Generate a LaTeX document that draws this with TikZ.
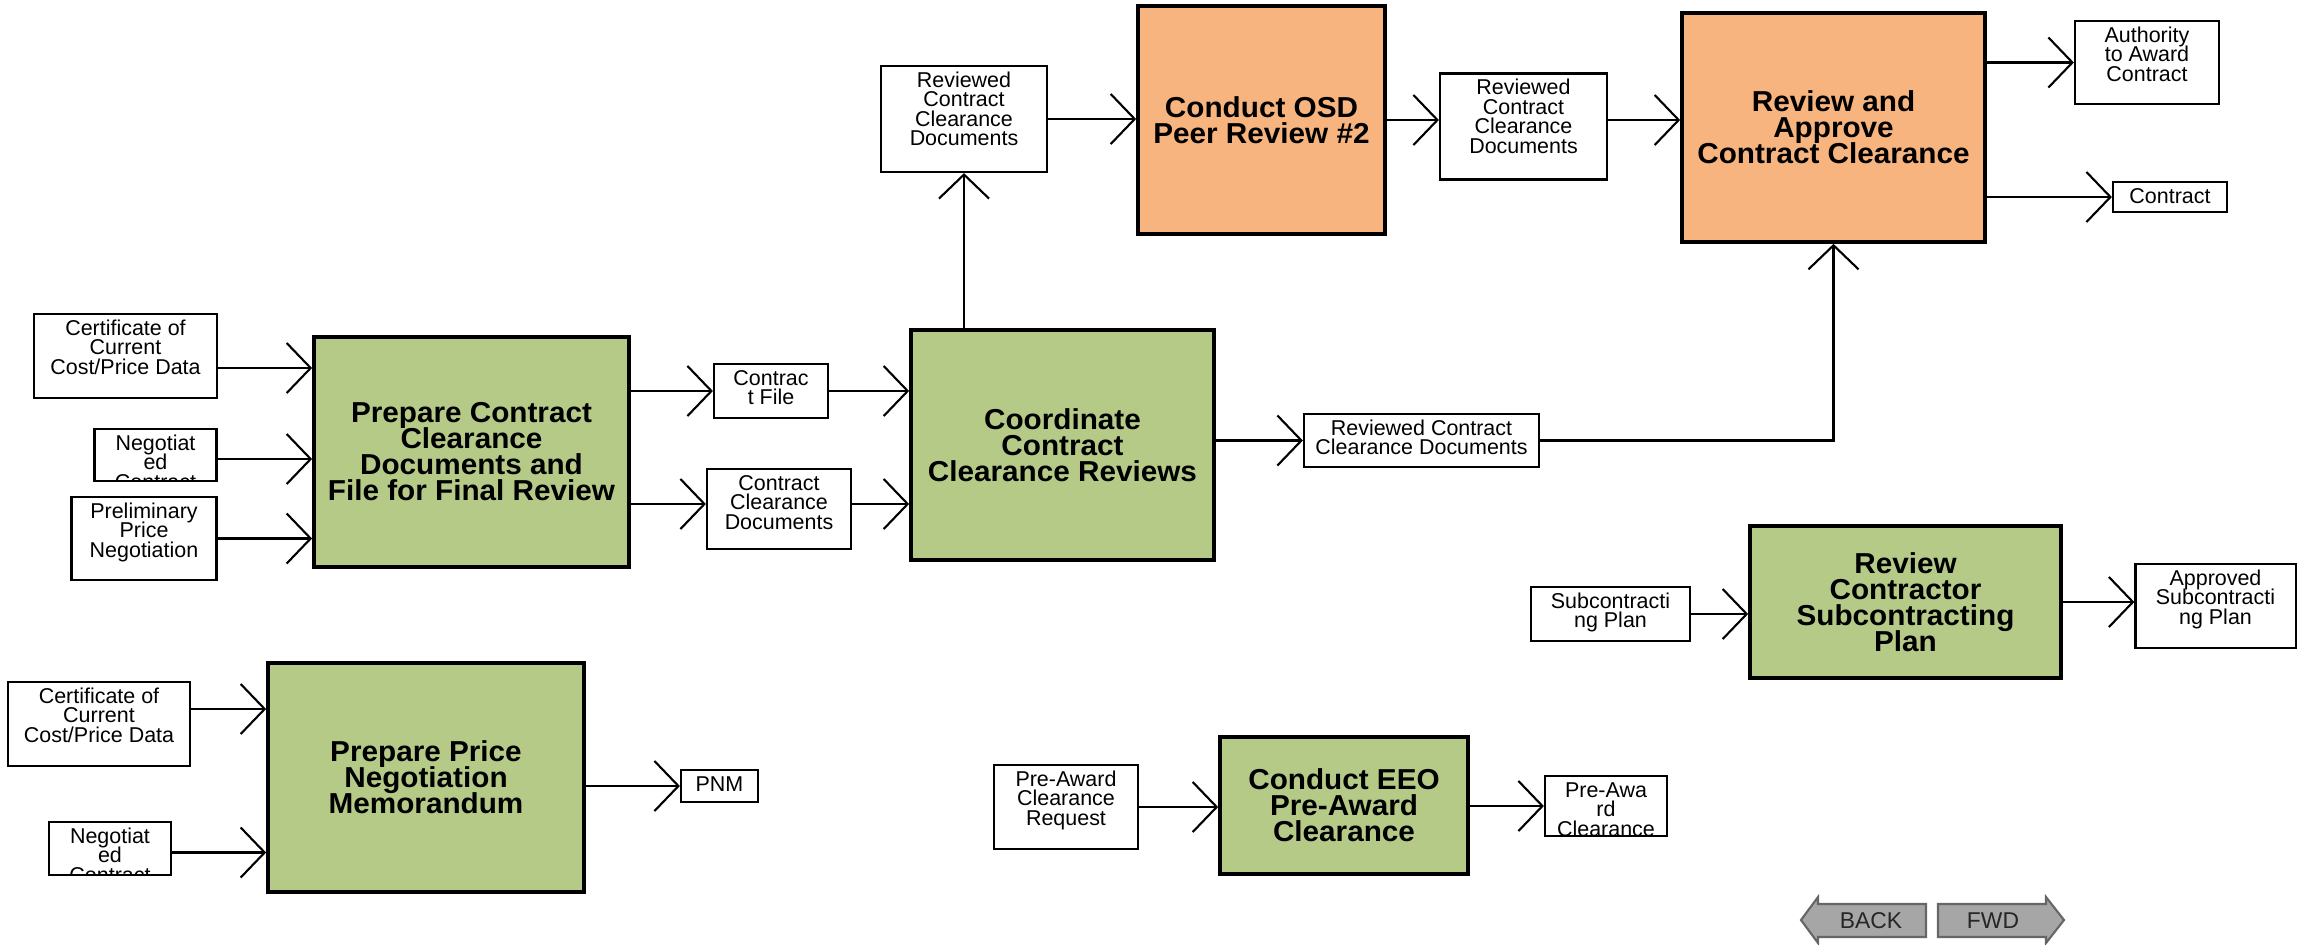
\documentclass[tikz,border=0pt]{standalone}
\usepackage{fontspec}
\setmainfont{Liberation Sans}
\newfontfamily\taskfamily{Liberation Sans}[FakeStretch=1.03]
\usetikzlibrary{arrows.meta, positioning}
\definecolor{taskgreen}{RGB}{182,202,136}
\definecolor{taskorange}{RGB}{247,180,126}
\definecolor{btngray}{RGB}{166,166,166}
\newcommand{\docfont}{\fontsize{6.1}{5.5}\selectfont\lineskiplimit=-5pt\relax}
\newcommand{\taskfont}{\taskfamily\bfseries\fontsize{8.2}{7.4}\selectfont\lineskiplimit=-5pt\relax}

\begin{document}
\begin{tikzpicture}[x=0.01cm, y=-0.01cm,
    task/.style={rectangle, draw=black, line width=1pt, align=center, inner sep=0pt, font=\taskfont},
    doc/.style={rectangle, draw=black, fill=white, line width=0.6pt, inner sep=0pt,
        path picture={\node[anchor=base, inner sep=0pt]
            at ([yshift=-0.215cm]path picture bounding box.north) {\parbox[t]{3cm}{\centering\docfont #1}};}},
    arrow/.style={line width=0.6pt, -{Straight Barb[length=0.24cm, width=0.5cm]}},
    btn/.style={fill=btngray, draw=black!60, line width=0.6pt}
]
\useasboundingbox (0,0) rectangle (2311,944);

\node (prepCCD) [task, fill=taskgreen, minimum width=3.15cm, minimum height=2.30cm] at (471.5,452) {Prepare Contract\\Clearance\\Documents and\\File for Final Review};
\node (coord) [task, fill=taskgreen, minimum width=3.03cm, minimum height=2.30cm] at (1062.5,445) {Coordinate\\Contract\\Clearance Reviews};
\node (osd) [task, fill=taskorange, minimum width=2.47cm, minimum height=2.28cm] at (1261.5,120) {Conduct OSD\\Peer Review \#2};
\node (approve) [task, fill=taskorange, minimum width=3.03cm, minimum height=2.29cm] at (1833.5,127.5) {Review and\\Approve\\Contract Clearance};
\node (subc) [task, fill=taskgreen, minimum width=3.11cm, minimum height=1.52cm] at (1905.5,602) {Review\\Contractor\\Subcontracting\\Plan};
\node (prepPNM) [task, fill=taskgreen, minimum width=3.16cm, minimum height=2.29cm] at (426,777.5) {Prepare Price\\Negotiation\\Memorandum};
\node (eeo) [task, fill=taskgreen, minimum width=2.48cm, minimum height=1.37cm] at (1344,805.5) {Conduct EEO\\Pre-Award\\Clearance};

\node (certA) [doc={Certificate of\\Current\\Cost/Price Data}, minimum width=1.83cm, minimum height=0.84cm] at (125.5,356) {};
\node (negA) [doc={Negotiat\\ed\\Contract}, minimum width=1.22cm, minimum height=0.52cm] at (155.5,455) {};
\node (prelim) [doc={Preliminary\\Price\\Negotiation}, minimum width=1.45cm, minimum height=0.83cm] at (144,538.5) {};
\node (cfile) [doc={Contrac\\t File}, minimum width=1.14cm, minimum height=0.54cm] at (771,391) {};
\node (ccd) [doc={Contract\\Clearance\\Documents}, minimum width=1.44cm, minimum height=0.80cm] at (779,509) {};
\node (rtop) [doc={Reviewed\\Contract\\Clearance\\Documents}, minimum width=1.66cm, minimum height=1.06cm] at (964,119) {};
\node (rmid) [doc={Reviewed\\Contract\\Clearance\\Documents}, minimum width=1.67cm, minimum height=1.06cm] at (1523.5,126.5) {};
\node (rlong) [doc={Reviewed Contract\\Clearance Documents}, minimum width=2.35cm, minimum height=0.53cm] at (1421.5,440.5) {};
\node (auth) [doc={Authority\\to Award\\Contract}, minimum width=1.44cm, minimum height=0.83cm] at (2147,62.5) {};
\node (contract) [doc={Contract}, minimum width=1.14cm, minimum height=0.30cm] at (2170,197) {};
\node (subplan) [doc={Subcontracti\\ng Plan}, minimum width=1.59cm, minimum height=0.54cm] at (1610.5,614) {};
\node (apsub) [doc={Approved\\Subcontracti\\ng Plan}, minimum width=1.60cm, minimum height=0.84cm] at (2215.5,606) {};
\node (certB) [doc={Certificate of\\Current\\Cost/Price Data}, minimum width=1.82cm, minimum height=0.84cm] at (99,724) {};
\node (negB) [doc={Negotiat\\ed\\Contract}, minimum width=1.22cm, minimum height=0.53cm] at (110,848.5) {};
\node (pnm) [doc={PNM}, minimum width=0.77cm, minimum height=0.32cm] at (719.5,786) {};
\node (par) [doc={Pre-Award\\Clearance\\Request}, minimum width=1.44cm, minimum height=0.84cm] at (1066,807) {};
\node (paout) [doc={Pre-Awa\\rd\\Clearance}, minimum width=1.22cm, minimum height=0.60cm] at (1606,806) {};

\draw [arrow] ([yshift=-0.12cm]certA.east) -- ([yshift=-0.12cm]certA.east -| prepCCD.west);
\draw [arrow] ([yshift=-0.04cm]negA.east) -- ([yshift=-0.04cm]negA.east -| prepCCD.west);
\draw [arrow] (prelim.east) -- (prelim.east -| prepCCD.west);
\draw [arrow] (prepCCD.east |- cfile.west) -- (cfile.west);
\draw [arrow] ([yshift=0.05cm]prepCCD.east |- ccd.west) -- ([yshift=0.05cm]ccd.west);
\draw [arrow] (cfile.east) -- (cfile.east -| coord.west);
\draw [arrow] ([yshift=0.05cm]ccd.east) -- ([yshift=0.05cm]ccd.east -| coord.west);
\draw [arrow] (coord.east |- rlong.west) -- (rlong.west);
\draw [arrow] (coord.north -| rtop.south) -- (rtop.south);
\draw [arrow] (rtop.east) -- (rtop.east -| osd.west);
\draw [arrow] (osd.east) -- (osd.east -| rmid.west);
\draw [arrow] (osd.east -| rmid.east) -- (osd.east -| approve.west);
\draw [arrow] (rlong.east) -| (approve.south);
\draw [arrow] (approve.east |- auth.west) -- (auth.west);
\draw [arrow] (approve.east |- contract.west) -- (contract.west);
\draw [arrow] (subplan.east) -- (subplan.east -| subc.west);
\draw [arrow] (subc.east) -- (subc.east -| apsub.west);
\draw [arrow] ([yshift=0.15cm]certB.east) -- ([yshift=0.15cm]certB.east -| prepPNM.west);
\draw [arrow] ([yshift=-0.04cm]negB.east) -- ([yshift=-0.04cm]negB.east -| prepPNM.west);
\draw [arrow] (prepPNM.east |- pnm.west) -- (pnm.west);
\draw [arrow] (par.east) -- (par.east -| eeo.west);
\draw [arrow] (eeo.east |- paout.west) -- (paout.west);

\draw [btn] (1801,920) -- (1818,897) -- (1818,904) -- (1926,904) -- (1926,937) -- (1818,937) -- (1818,943) -- cycle;
\draw [btn] (1938,904) -- (2046,904) -- (2046,897) -- (2064,920) -- (2046,943) -- (2046,937) -- (1938,937) -- cycle;
\node (back) [font=\fontsize{6.5}{7}\selectfont, text=black!85] at (1871,921) {BACK};
\node (fwd) [font=\fontsize{6.5}{7}\selectfont, text=black!85] at (1993,921) {FWD};
\end{tikzpicture}
\end{document}
